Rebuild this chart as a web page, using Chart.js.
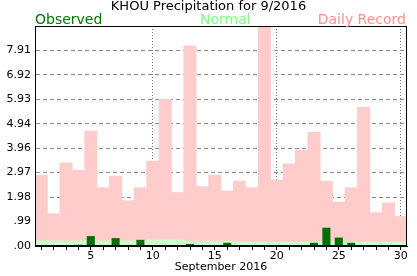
<!DOCTYPE html>
<html>
<head>
<meta charset="utf-8">
<script src="https://cdn.jsdelivr.net/npm/chart.js@4"></script>
<style>
  body { margin: 0; background: #fff; }
  #wrap { position: relative; width: 417px; height: 276px; font-family: "DejaVu Sans", Verdana, sans-serif; }
  #wrap canvas { position: absolute; left: 0; top: 0; }
  .hdr { position: absolute; white-space: nowrap; }
  #title { left: 0; width: 417px; top: -2px; text-align: center; font-size: 13px; color: #000; }
  .leg { top: 11px; font-size: 14px; }
  #lObs { left: 35px; color: #007700; }
  #lNorm { left: 200px; color: #80ff80; }
  #lRec { right: 11px; color: #ff9090; }
</style>
</head>
<body>
<div id="wrap">
  <canvas id="precipChart" width="417" height="276"></canvas>
  <div class="hdr" id="title">KHOU Precipitation for 9/2016</div>
  <div class="hdr leg" id="lObs">Observed</div>
  <div class="hdr leg" id="lNorm">Normal</div>
  <div class="hdr leg" id="lRec">Daily Record</div>
</div>
<script>
// days of September 2016
var days = ['1','2','3','4','5','6','7','8','9','10','11','12','13','14','15',
            '16','17','18','19','20','21','22','23','24','25','26','27','28','29','30'];

// inches
var observed = [0, 0, 0, 0.05, 0.40, 0, 0.32, 0, 0.25, 0, 0, 0, 0.08, 0, 0,
                0.13, 0, 0, 0, 0.04, 0, 0, 0.13, 0.74, 0.34, 0.13, 0, 0, 0, 0];
var normal = [0.21, 0.21, 0.21, 0.21, 0.21, 0.21, 0.21, 0.21, 0.21, 0.25, 0.25, 0.25, 0.20, 0.20, 0.20,
              0.20, 0.16, 0.16, 0.16, 0.16, 0.16, 0.16, 0.16, 0.16, 0.16, 0.16, 0.16, 0.16, 0.16, 0.16];
var record = [2.87, 1.31, 3.36, 3.07, 4.65, 2.36, 2.83, 1.83, 2.36, 3.44, 5.93, 2.16, 8.10, 2.40, 2.87,
              2.22, 2.63, 2.36, 9.76, 2.67, 3.32, 3.88, 4.61, 2.63, 1.78, 2.36, 5.61, 1.35, 1.75, 1.19];

var yTickLabels = ['.00', '.99', '1.98', '2.97', '3.96', '4.94', '5.93', '6.92', '7.91'];
var yMax = 8.9;

// black box round the plot area
var framePlugin = {
    id: 'frame',
    afterDraw: function(chart) {
        var a = chart.chartArea;
        var c = chart.ctx;
        c.save();
        c.strokeStyle = '#000';
        c.lineWidth = 1;
        c.strokeRect(Math.round(a.left) + 0.5, Math.round(a.top) + 0.5,
                     Math.round(a.right - a.left) - 1, Math.round(a.bottom - a.top) - 1);
        c.restore();
    }
};

var ctx = document.getElementById('precipChart').getContext('2d');
var precipChart = new Chart(ctx, {
    type: 'bar',
    data: {
        labels: days,
        datasets: [{
            label: 'Observed',
            data: observed,
            backgroundColor: '#006e00',
            grouped: false,
            barPercentage: 0.65,
            categoryPercentage: 1,
            order: 0
        }, {
            label: 'Normal',
            data: normal,
            backgroundColor: '#ccffcc',
            grouped: false,
            barPercentage: 1,
            categoryPercentage: 1,
            order: 1
        }, {
            label: 'Daily Record',
            data: record,
            backgroundColor: '#ffcccc',
            grouped: false,
            barPercentage: 1,
            categoryPercentage: 1,
            order: 2
        }]
    },
    options: {
        responsive: false,
        animation: false,
        layout: { padding: { top: 26, right: 10, left: 0, bottom: 0 } },
        plugins: {
            legend: { display: false },
            tooltip: { enabled: false }
        },
        scales: {
            x: {
                z: 1,
                afterFit: function(scale) { scale.height = 30; },
                grid: {
                    offset: false,
                    color: function(c) { return (c.index + 1) % 10 === 0 ? '#777' : 'transparent'; },
                    tickColor: '#000',
                    tickLength: 4
                },
                border: { color: '#000', dash: [1, 2] },
                ticks: {
                    autoSkip: false,
                    maxRotation: 0,
                    padding: 0,
                    color: '#000',
                    font: { family: 'DejaVu Sans', size: 11 },
                    callback: function(v, i) { return (i + 1) % 5 === 0 ? days[i] : ''; }
                },
                title: {
                    display: true,
                    text: 'September 2016',
                    color: '#000',
                    padding: { top: 0, bottom: 2 },
                    font: { family: 'DejaVu Sans', size: 11 }
                }
            },
            y: {
                z: 1,
                min: 0,
                max: yMax,
                afterFit: function(scale) { scale.width = 35; },
                afterBuildTicks: function(scale) {
                    scale.ticks = yTickLabels.map(function(s) { return { value: parseFloat(s) }; });
                },
                grid: {
                    color: function(c) { return c.index === 0 ? 'transparent' : '#8c8c8c'; },
                    drawTicks: false
                },
                border: { color: '#000', dash: [4, 3] },
                ticks: {
                    padding: 4,
                    color: '#000',
                    font: { family: 'DejaVu Sans', size: 11 },
                    callback: function(v, i) { return yTickLabels[i]; }
                }
            }
        }
    },
    plugins: [framePlugin]
});
</script>
</body>
</html>
